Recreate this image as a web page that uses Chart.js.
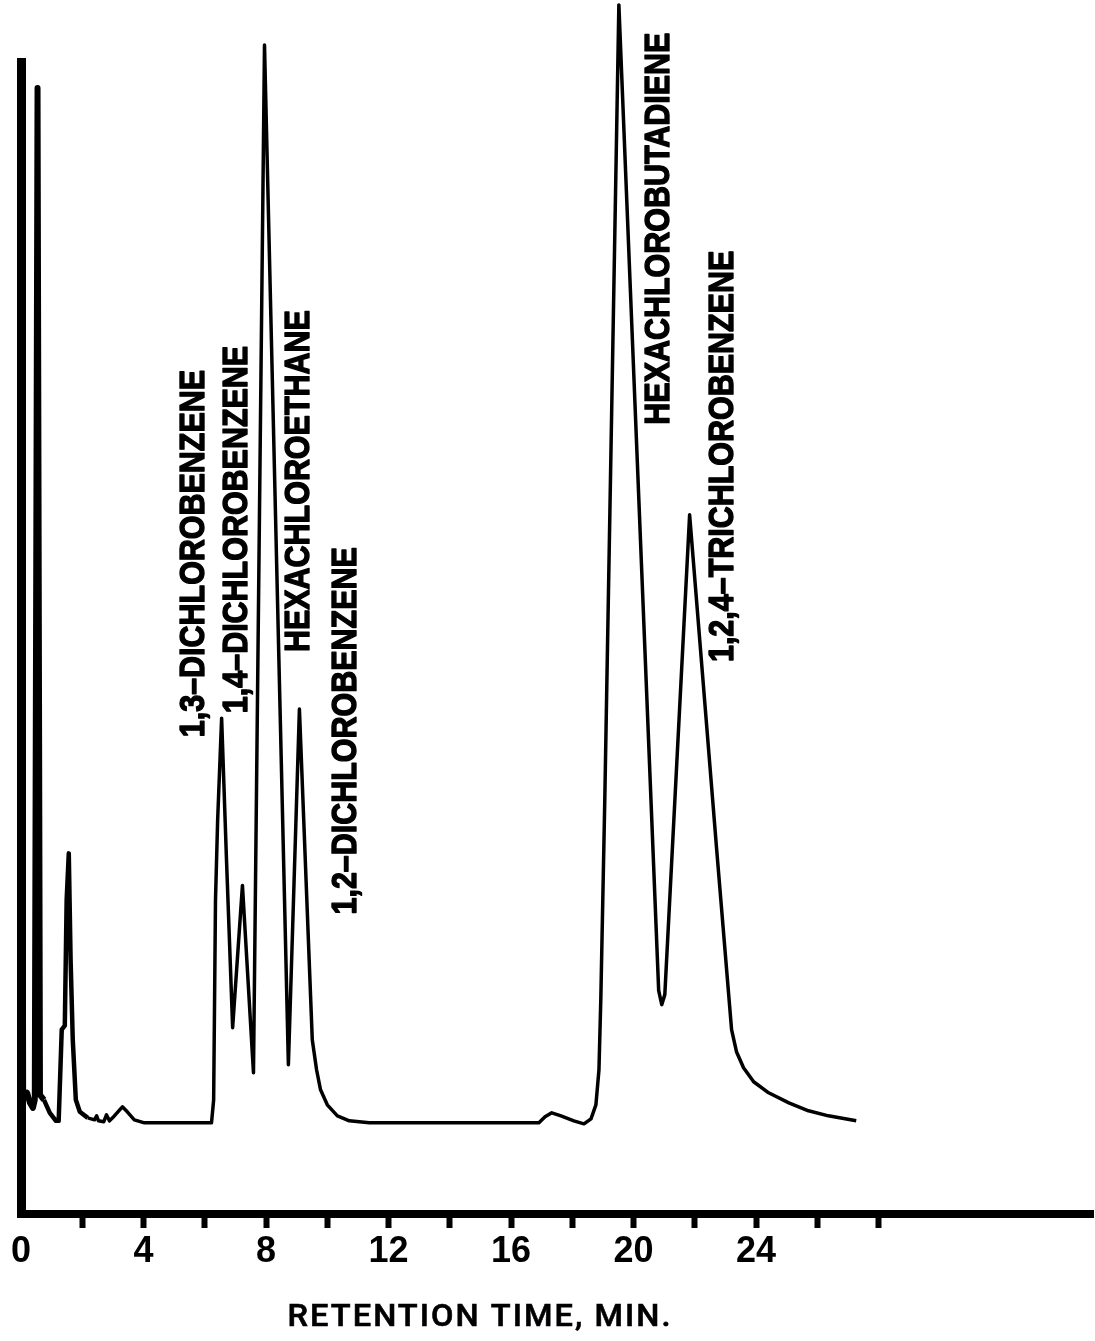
<!DOCTYPE html>
<html>
<head>
<meta charset="utf-8">
<script src="https://cdn.jsdelivr.net/npm/chart.js@4.4.1/dist/chart.umd.min.js"></script>
<style>
  html, body { margin: 0; padding: 0; background: #fff; }
  #wrap { width: 1095px; height: 1341px; position: relative; }
</style>
</head>
<body>
<div id="wrap"><canvas id="chrom"></canvas></div>
<script>
// detector trace (time in min, response in arbitrary units, baseline = 0)
const retentionTime = [
    0.02, 0.07, 0.20, 0.29, 0.39, 0.45, 0.54, 0.62, 0.75, 0.94, 1.14, 1.23, 1.33, 1.43, 1.49, 1.56,
    1.62, 1.69, 1.79, 1.92, 2.18, 2.40, 2.47, 2.53, 2.70, 2.79, 2.89, 2.99, 3.31, 3.47, 3.70, 4.03, 6.22,
    6.29, 6.35, 6.42, 6.55, 6.71, 6.91, 7.23, 7.59, 7.95, 8.73, 9.09, 9.51, 9.65, 9.78, 10.00, 10.33, 10.72, 11.37,
    16.91, 17.11, 17.33, 17.63, 18.05, 18.38, 18.61, 18.77, 18.87, 18.93, 19.06, 19.52, 20.82, 20.92, 21.02,
    21.83, 22.71, 23.20, 23.36, 23.59, 23.92, 24.41, 25.07, 25.71, 26.36, 27.27
];
const response = [
    106.0, 2.6, 3.1, 2.1, 1.6, 2.4, 103.4, 2.9, 2.4, 1.1, 0.3, 0.3, 9.4, 9.8, 22.3, 27.0,
    16.3, 8.4, 2.4, 1.2, 0.6, 0.4, 0.8, 0.3, 0.2, 0.9, 0.3, 0.6, 1.7, 1.2, 0.4, 0.1, 0.1,
    2.4, 22.3, 30.3, 40.5, 26.3, 9.6, 23.8, 5.1, 107.7, 5.9, 41.4, 8.4, 5.4, 3.4, 1.9, 0.8, 0.3, 0.1,
    0.1, 0.7, 1.1, 0.8, 0.3, 0.0, 0.5, 1.9, 5.4, 12.4, 32.3, 111.7, 13.3, 11.9, 12.9,
    60.8, 27.5, 9.4, 7.2, 5.6, 4.2, 3.1, 2.1, 1.3, 0.8, 0.3
];

// compounds named on the peaks
const peakNames = [
    '1,3–DICHLOROBENZENE',
    '1,4–DICHLOROBENZENE',
    'HEXACHLOROETHANE',
    '1,2–DICHLOROBENZENE',
    'HEXACHLOROBUTADIENE',
    '1,2,4–TRICHLOROBENZENE'
];

// axis ticks: marks every 2 min up to 28, numbers every 4 min up to 24
const tickStep = 2;
const lastTick = 28;
const labelledTicks = [0, 4, 8, 12, 16, 20, 24];
const axisTitle = 'RETENTION TIME, MIN.';

// where each vertical name starts (time, response) - layout only
const labelAnchor = [
    [5.67, 38.6],
    [7.07, 41.0],
    [9.09, 47.1],
    [10.62, 20.9],
    [20.85, 69.8],
    [22.94, 46.1]
];

const labelFont = '"Liberation Sans", Arial, sans-serif';

const annotate = {
    id: 'annotate',
    afterDraw(chart) {
        const { ctx } = chart;
        const xs = chart.scales.x;
        const ys = chart.scales.y;
        ctx.save();
        ctx.fillStyle = '#000';
        ctx.strokeStyle = '#000';
        ctx.font = 'bold 35px ' + labelFont;
        // squeeze the names to the condensed look of the original lettering
        const stretch = 392 / ctx.measureText('HEXACHLOROBUTADIENE').width;
        peakNames.forEach((name, i) => {
            ctx.save();
            ctx.translate(xs.getPixelForValue(labelAnchor[i][0]), ys.getPixelForValue(labelAnchor[i][1]));
            ctx.rotate(-Math.PI / 2);
            ctx.scale(stretch, 1);
            ctx.textAlign = 'left';
            ctx.textBaseline = 'middle';
            ctx.lineWidth = 1.4;
            ctx.lineJoin = 'round';
            ctx.fillText(name, 0, 0);
            ctx.strokeText(name, 0, 0);
            ctx.restore();
        });

        // axis title, drawn by hand because it is not centred on the plot area
        ctx.font = '500 32px Roboto, "Liberation Sans", sans-serif';
        ctx.letterSpacing = '2px';
        const w = ctx.measureText(axisTitle).width;
        ctx.save();
        ctx.translate(480, 1318);
        ctx.scale(385 / w, 1);
        ctx.textAlign = 'center';
        ctx.textBaseline = 'middle';
        ctx.lineWidth = 0.6;
        ctx.fillText(axisTitle, 0, 0);
        ctx.strokeText(axisTitle, 0, 0);
        ctx.restore();
        ctx.restore();
    }
};

new Chart(document.getElementById('chrom'), {
    type: 'line',
    data: {
        datasets: [{
            data: retentionTime.map((t, i) => ({ x: t, y: response[i] })),
            borderColor: '#000',
            borderWidth: 3.5,
            borderJoinStyle: 'round',
            pointRadius: 0,
            tension: 0,
            fill: false,
            clip: false,
            segment: {
                borderWidth: c => c.p0.parsed.x < 0.7 ? 6 : (c.p0.parsed.x < 2 ? 4.5 : 3.5)
            }
        }]
    },
    options: {
        responsive: true,
        maintainAspectRatio: false,
        animation: false,
        layout: { padding: { top: 62, left: 0, right: 0, bottom: 0 } },
        plugins: {
            legend: { display: false },
            tooltip: { enabled: false }
        },
        scales: {
            x: {
                type: 'linear',
                min: 0,
                max: 35,
                afterFit: s => { s.height = 127; },
                border: { display: true, color: '#000', width: 8 },
                grid: {
                    display: true,
                    drawOnChartArea: false,
                    drawTicks: true,
                    tickLength: 14,
                    tickWidth: 6,
                    tickColor: c => (c.tick && c.tick.value > 0 && c.tick.value <= lastTick) ? '#000' : 'rgba(0,0,0,0)'
                },
                ticks: {
                    stepSize: tickStep,
                    autoSkip: false,
                    maxRotation: 0,
                    padding: 2,
                    color: '#000',
                    font: { family: labelFont, weight: 'bold', size: 36 },
                    callback: v => labelledTicks.includes(v) ? String(v) : ''
                }
            },
            y: {
                min: -9,
                max: 106,
                afterFit: s => { s.width = 21; },
                border: { display: true, color: '#000', width: 9 },
                grid: { display: false },
                ticks: { display: false }
            }
        }
    },
    plugins: [annotate]
});
</script>
</body>
</html>
